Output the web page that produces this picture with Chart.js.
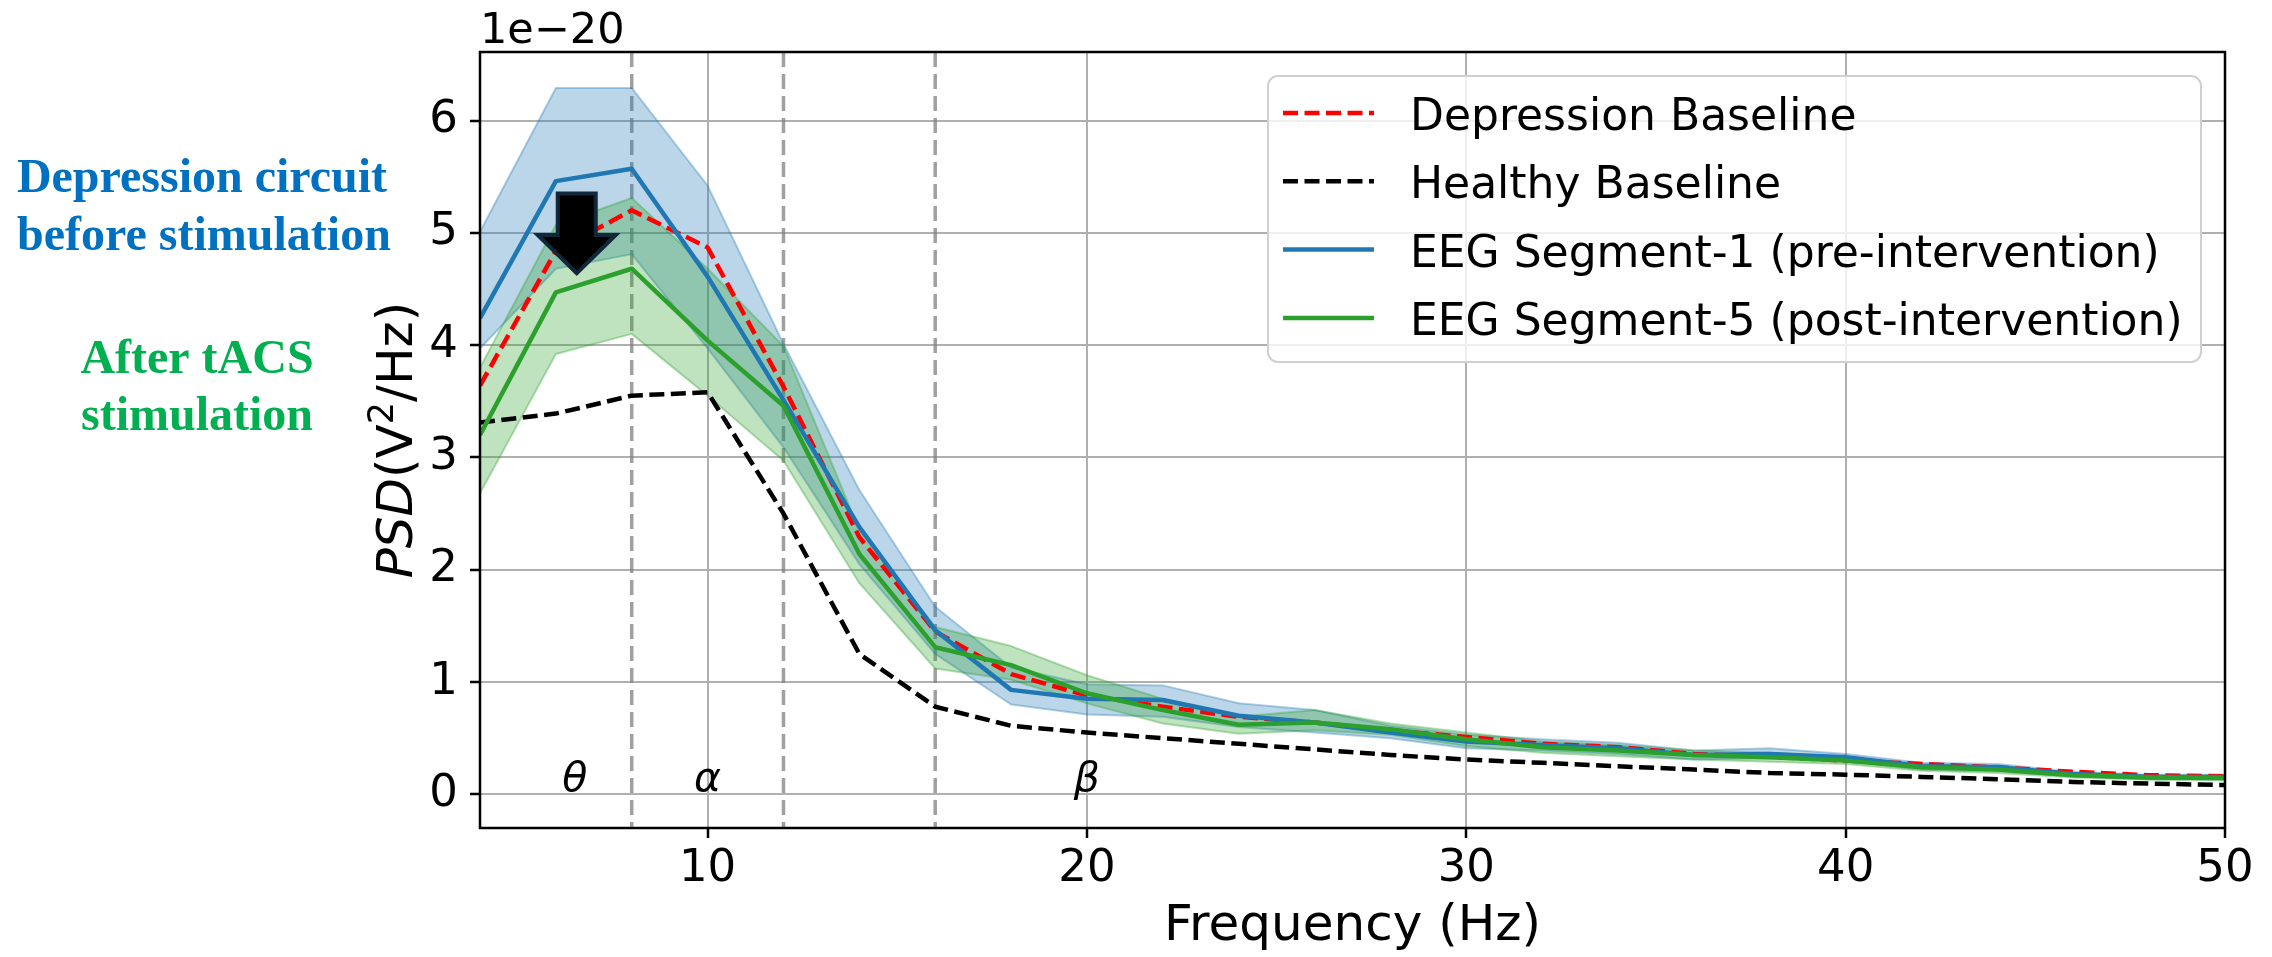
<!DOCTYPE html>
<html>
<head>
<meta charset="utf-8">
<script src="https://cdn.jsdelivr.net/npm/chart.js@4.4.1/dist/chart.umd.min.js"></script>
<style>
  html, body { margin: 0; padding: 0; background: #fff; }
</style>
</head>
<body>
<canvas id="psd" width="2272" height="957"></canvas>
<script>
// PSD values, in units of 1e-20 V^2/Hz
const freqs = [4, 6, 8, 10, 12, 14, 16, 18, 20, 22, 24, 26, 28, 30, 32, 34, 36, 38, 40, 42, 44, 46, 48, 50];

const depressionBaseline = [3.64, 4.84, 5.20, 4.87, 3.63, 2.29, 1.45, 1.07, 0.88, 0.78, 0.69, 0.64, 0.57, 0.51, 0.45, 0.42, 0.36, 0.335, 0.30, 0.27, 0.24, 0.20, 0.17, 0.16];
const healthyBaseline = [3.31, 3.39, 3.55, 3.58, 2.50, 1.25, 0.78, 0.61, 0.55, 0.50, 0.45, 0.40, 0.35, 0.31, 0.28, 0.25, 0.22, 0.19, 0.175, 0.155, 0.135, 0.11, 0.095, 0.083];

const seg1Mean  = [4.24, 5.46, 5.57, 4.61, 3.51, 2.38, 1.46, 0.93, 0.85, 0.84, 0.70, 0.64, 0.55, 0.47, 0.44, 0.41, 0.35, 0.36, 0.33, 0.25, 0.24, 0.18, 0.155, 0.155];
const seg1Upper = [5.01, 6.29, 6.29, 5.42, 4.01, 2.71, 1.67, 1.13, 0.98, 0.97, 0.81, 0.75, 0.61, 0.53, 0.49, 0.46, 0.39, 0.41, 0.36, 0.28, 0.27, 0.20, 0.175, 0.175];
const seg1Lower = [3.97, 4.68, 4.81, 3.97, 3.09, 2.05, 1.25, 0.80, 0.71, 0.69, 0.60, 0.55, 0.50, 0.41, 0.39, 0.36, 0.31, 0.32, 0.30, 0.22, 0.21, 0.16, 0.135, 0.135];

const seg5Mean  = [3.20, 4.47, 4.68, 4.04, 3.46, 2.14, 1.31, 1.15, 0.90, 0.75, 0.62, 0.64, 0.58, 0.49, 0.42, 0.39, 0.35, 0.33, 0.30, 0.24, 0.22, 0.17, 0.15, 0.145];
const seg5Upper = [3.80, 5.07, 5.31, 4.68, 3.99, 2.35, 1.49, 1.32, 1.06, 0.85, 0.69, 0.75, 0.63, 0.55, 0.47, 0.44, 0.39, 0.37, 0.33, 0.27, 0.25, 0.19, 0.17, 0.165];
const seg5Lower = [2.68, 3.92, 4.10, 3.55, 2.97, 1.88, 1.12, 1.02, 0.81, 0.63, 0.54, 0.57, 0.53, 0.43, 0.37, 0.34, 0.31, 0.29, 0.27, 0.21, 0.19, 0.15, 0.13, 0.125];

const seriesLabels = ['Depression Baseline', 'Healthy Baseline', 'EEG Segment-1 (pre-intervention)', 'EEG Segment-5 (post-intervention)'];

const xTicks = [10, 20, 30, 40, 50];
const yTicks = [0, 1, 2, 3, 4, 5, 6];

// frequency band boundaries and names
const bandEdges = [8, 12, 16];
const bandNames = ['θ', 'α', 'β'];
const bandNameX = [6.5, 10, 20];

// the "drop" arrow, in data units
const dropArrow = { x: 6.55, top: 5.35, neck: 4.98, tip: 4.64 };

const FONT = '"DejaVu Sans", sans-serif';
const BLUE = '#1f77b4';
const GREEN = '#2ca02c';
const DASH = [15, 6.5];
const LW = 4.5;

const pts = arr => arr.map((v, i) => ({ x: freqs[i], y: v }));

const lineBase = { pointRadius: 0, tension: 0, fill: false, borderJoinStyle: 'round' };

const datasets = [
  { ...lineBase, data: pts(depressionBaseline), borderColor: '#ff0000', borderWidth: LW, borderDash: DASH, order: 4 },
  { ...lineBase, data: pts(healthyBaseline), borderColor: '#000000', borderWidth: LW, borderDash: DASH, order: 4 },
  { ...lineBase, data: pts(seg1Mean), borderColor: BLUE, borderWidth: LW, order: 2 },
  { ...lineBase, data: pts(seg5Mean), borderColor: GREEN, borderWidth: LW, order: 1 },
  { ...lineBase, data: pts(seg1Upper), borderColor: 'rgba(31,119,180,0.35)', borderWidth: 2,
    backgroundColor: 'rgba(31,119,180,0.3)', fill: '+1', order: 8 },
  { ...lineBase, data: pts(seg1Lower), borderColor: 'rgba(31,119,180,0.35)', borderWidth: 2, order: 8 },
  { ...lineBase, data: pts(seg5Upper), borderColor: 'rgba(44,160,44,0.35)', borderWidth: 2,
    backgroundColor: 'rgba(44,160,44,0.3)', fill: '+1', order: 6 },
  { ...lineBase, data: pts(seg5Lower), borderColor: 'rgba(44,160,44,0.35)', borderWidth: 2, order: 6 },
];

const decor = {
  id: 'decor',
  beforeDatasetsDraw(chart) {
    const { ctx, chartArea: a, scales: { x, y } } = chart;
    ctx.save();
    ctx.strokeStyle = 'rgba(128,128,128,0.75)';
    ctx.lineWidth = 3.5;
    ctx.setLineDash([15, 7]);
    bandEdges.forEach(f => {
      const px = x.getPixelForValue(f);
      ctx.beginPath();
      ctx.moveTo(px, a.top);
      ctx.lineTo(px, a.bottom);
      ctx.stroke();
    });
    ctx.setLineDash([]);
    ctx.fillStyle = '#000';
    ctx.font = 'italic 41px ' + FONT;
    ctx.textAlign = 'center';
    ctx.textBaseline = 'alphabetic';
    bandNames.forEach((t, i) => ctx.fillText(t, x.getPixelForValue(bandNameX[i]), y.getPixelForValue(0.03)));
    ctx.restore();
  },
  afterDatasetsDraw(chart) {
    const { ctx, chartArea: a, scales: { x, y } } = chart;
    ctx.save();
    // frame
    ctx.strokeStyle = '#000';
    ctx.lineWidth = 2.5;
    ctx.strokeRect(a.left, a.top, a.right - a.left, a.bottom - a.top);

    // arrow
    const cx = x.getPixelForValue(dropArrow.x);
    const top = y.getPixelForValue(dropArrow.top);
    const neck = y.getPixelForValue(dropArrow.neck);
    const tip = y.getPixelForValue(dropArrow.tip);
    ctx.beginPath();
    ctx.moveTo(cx - 19, top);
    ctx.lineTo(cx + 19, top);
    ctx.lineTo(cx + 19, neck);
    ctx.lineTo(cx + 39, neck);
    ctx.lineTo(cx, tip);
    ctx.lineTo(cx - 39, neck);
    ctx.lineTo(cx - 19, neck);
    ctx.closePath();
    ctx.fillStyle = '#000';
    ctx.fill();
    ctx.strokeStyle = '#11283a';
    ctx.lineWidth = 4;
    ctx.lineJoin = 'miter';
    ctx.stroke();
    ctx.restore();
  },
  afterDraw(chart) {
    const { ctx } = chart;
    ctx.save();

    // legend
    const lx = 1268, ly = 76, lw = 933, lh = 286;
    ctx.beginPath();
    ctx.roundRect(lx, ly, lw, lh, 10);
    ctx.fillStyle = 'rgba(255,255,255,0.8)';
    ctx.fill();
    ctx.strokeStyle = '#d0d0d0';
    ctx.lineWidth = 2;
    ctx.stroke();
    seriesLabels.forEach((label, i) => {
      const ds = chart.data.datasets[i];
      const rowY = 113 + i * 68.3;
      ctx.beginPath();
      ctx.setLineDash(ds.borderDash || []);
      ctx.strokeStyle = ds.borderColor;
      ctx.lineWidth = LW;
      ctx.moveTo(1283, rowY);
      ctx.lineTo(1374, rowY);
      ctx.stroke();
      ctx.setLineDash([]);
      ctx.fillStyle = '#000';
      ctx.font = '44px ' + FONT;
      ctx.textAlign = 'left';
      ctx.textBaseline = 'alphabetic';
      ctx.fillText(label, 1410, rowY + 17);
    });

    // offset text
    ctx.fillStyle = '#000';
    ctx.font = '43px ' + FONT;
    ctx.textAlign = 'left';
    ctx.fillText('1e\u221220', 480, 43);

    // y axis title: PSD(V^2/Hz)
    ctx.translate(412, 440);
    ctx.rotate(-Math.PI / 2);
    const parts = [
      { t: 'PSD', f: 'italic 50px ' + FONT, dy: 0 },
      { t: '(V', f: '50px ' + FONT, dy: 0 },
      { t: '2', f: '35px ' + FONT, dy: -19 },
      { t: '/Hz)', f: '50px ' + FONT, dy: 0 },
    ];
    let total = 0;
    parts.forEach(p => { ctx.font = p.f; p.w = ctx.measureText(p.t).width; total += p.w; });
    let cx = -total / 2;
    parts.forEach(p => { ctx.font = p.f; ctx.fillText(p.t, cx, p.dy); cx += p.w; });
    ctx.restore();

    // side notes
    ctx.save();
    ctx.font = 'bold 48px "Liberation Serif", "Times New Roman", serif';
    ctx.textAlign = 'center';
    ctx.textBaseline = 'alphabetic';
    ctx.fillStyle = '#0070c0';
    ctx.fillText('Depression circuit', 202, 192);
    ctx.fillText('before stimulation', 204, 250);
    ctx.fillStyle = '#00b050';
    ctx.fillText('After tACS', 197, 373);
    ctx.fillText('stimulation', 197, 430);
    ctx.restore();
  }
};

new Chart(document.getElementById('psd').getContext('2d'), {
  type: 'line',
  data: { datasets },
  options: {
    responsive: false,
    animation: false,
    devicePixelRatio: 1,
    layout: { padding: { left: 330, right: 47, top: 52, bottom: 0 } },
    plugins: {
      legend: { display: false },
      tooltip: { enabled: false },
    },
    scales: {
      x: {
        type: 'linear',
        min: 4,
        max: 50,
        afterBuildTicks: s => { s.ticks = xTicks.map(v => ({ value: v })); },
        afterFit: s => { s.height = 129; },
        ticks: { color: '#000', font: { family: FONT, size: 45 }, padding: 4, maxRotation: 0, autoSkip: false },
        grid: { color: '#b0b0b0', lineWidth: 2, tickLength: 10, tickColor: '#000', tickWidth: 2.5 },
        border: { display: false },
        title: { display: true, text: 'Frequency (Hz)', color: '#000', font: { family: FONT, size: 50 }, padding: { top: 0, bottom: 0 } },
      },
      y: {
        type: 'linear',
        min: -0.3,
        max: 6.61,
        afterBuildTicks: s => { s.ticks = yTicks.map(v => ({ value: v })); },
        afterFit: s => { s.width = 150; },
        ticks: { color: '#000', font: { family: FONT, size: 45 }, padding: 12 },
        grid: { color: '#b0b0b0', lineWidth: 2, tickLength: 10, tickColor: '#000', tickWidth: 2.5 },
        border: { display: false },
      },
    },
  },
  plugins: [decor],
});
</script>
</body>
</html>
